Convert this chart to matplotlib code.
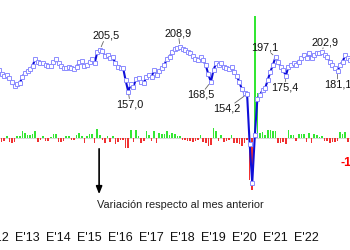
import numpy as np
import matplotlib.pyplot as plt

plt.rcParams['font.family'] = ['Liberation Sans', 'DejaVu Sans']

# monthly index, Jan 2012 onwards
indice = [
    184, 182, 178, 175.5, 176.5, 173, 168, 164, 165.5, 167, 174, 179,
    181, 183, 187, 195.5, 192, 190.5, 190.5, 188.5, 186.5, 186.5, 191, 194.5,
    190.5, 187, 184.5, 185, 185.5, 184, 183, 185.5, 191.5, 192.5, 187, 187.5,
    191, 195.5, 190, 203, 205.5, 204, 199, 199.5, 196, 197.5, 190, 186,
    185, 184.5, 170, 157.0, 166, 162.5, 172, 173, 168.5, 166.5, 174.5, 176.5,
    174.5, 182, 176.5, 181, 184.5, 188, 195.5, 197.5, 203, 206.5, 207.5, 208.9,
    207, 205.5, 203.5, 201.5, 198, 195.5, 194, 197, 193.5, 188, 177, 168.5,
    182, 190, 188, 190, 186, 184, 183, 186, 180, 175, 168.5, 159.5,
    155.5, 154.2, 96, 51, 106, 149, 153, 159, 161, 170.5, 180, 188,
    197.1, 192, 186, 182, 175.4, 186, 188, 190, 188, 192, 196, 199.5,
    196, 201.5, 196, 199.5, 201.5, 201.5, 202.9, 199.5, 197.5, 192, 188, 184,
    181.1, 188, 192, 199.5, 196, 194, 192, 190,
]

# variation vs previous month (%)
variacion = [
    2.5, -2.2, -3.2, -2.4, 1.6, -3.0, -4.0, -3.4, 1.9, 1.9, 5.2, 3.9,
    2.1, 2.1, 3.2, 5.5, -2.8, -1.8, 1.2, -2.0, -2.1, 1.1, 3.4, 2.8,
    -3.1, -2.8, -2.3, 1.3, 1.3, -1.8, -1.5, 2.4, 4.2, 1.5, -3.9, 1.3,
    2.9, 3.4, -3.8, 7.0, 2.2, -1.7, -3.5, 1.3, -2.8, 1.8, -4.8, -3.1,
    -1.5, -1.3, -7.9, -7.6, 6.2, -3.1, 6.0, 1.6, -3.6, -2.2, 5.0, 2.1,
    -2.1, 5.0, -4.0, 3.5, 2.9, 2.9, 5.0, 2.0, 3.8, 2.7, 1.5, 1.7,
    -1.9, -1.7, -2.0, -2.0, -2.7, -2.3, -1.8, 2.5, -2.8, -3.8, -6.0, -5.5,
    7.5, 5.0, -2.1, 2.1, -3.1, -2.1, -1.5, 2.6, -4.2, -3.8, -4.7, -5.8,
    -3.5, -1.8, -32.0, -40.0, 94.0, 35.0, 3.7, 4.9, 2.3, 6.0, 5.8, 5.0,
    5.2, -3.6, -4.1, -3.2, -4.6, 6.0, 2.1, 2.1, -2.1, 3.1, 3.1, 2.8,
    -2.8, 3.8, -3.8, 2.8, 2.0, 0.8, 1.7, -2.6, -2.0, -3.8, -3.1, -3.1,
    -2.6, 4.8, 3.1, 4.9, -2.8, -1.9, -2.0, -1.1,
]

anyo_inicio = 2012
anyos = list(range(2012, 2023))
ultima_etiqueta = '-1,1%'

# labelled extremes: (month index, offset x px, offset y px)
extremos = [
    (40, 6, 14), (51, 2, -12.5), (71, -1.5, 14), (83, -10, -13),
    (97, -20, -14.5), (108, -10.5, 9.5), (112, -1, -11.5),
    (126, 2.5, 10), (132, 0, -13.5),
]

t = anyo_inicio + np.arange(len(indice)) / 12

fig = plt.figure(figsize=(3.5, 2.5), dpi=100)
ax = fig.add_axes([0, 0, 1, 1])
ax.set_axis_off()
ax.set_xlim(2020 - 244.5 / 31, 2020 + 105.5 / 31)
ax.set_ylim(-86.2, 106.2)

# bars
colores = ['#33e633' if v >= 0 else '#f03030' for v in variacion]
ax.axhline(0, color='#d0d0d0', lw=0.6, zorder=1)
ax.bar(t, variacion, width=0.6 / 12, color=colores, zorder=2)
ax.annotate(ultima_etiqueta, xy=(t[-1], 0), xytext=(1, -25),
            textcoords='offset pixels', ha='center', va='center',
            color='#ff0000', fontsize=9, fontweight='bold',
            annotation_clip=False)

# arrow + note
ax.annotate('', xy=(2015.31, -45.4), xytext=(2015.31, -6.2),
            arrowprops=dict(arrowstyle='-|>,head_width=0.18,head_length=0.45',
                            color='black', lw=1.2))
ax.text(2015.25, -51.5, 'Variación respecto al mes anterior',
        fontsize=7.9, color='#222222', ha='left', va='center')

tr = ax.get_xaxis_transform()
for a in anyos:
    ax.text(a, 0.048, f"E'{a % 100:02d}", transform=tr, ha='center',
            va='center', fontsize=9, color='#111111')

# index line
ax2 = ax.twinx()
ax2.set_axis_off()
ax2.set_ylim(-27.2, 263.6)
ax2.plot(t, indice, color='#0f0fd8', lw=1.5, marker='s', ms=2.4,
         mfc='white', mec='#8c8cff', mew=0.7, zorder=3)

for k, dx, dy in extremos:
    txt = f'{indice[k]:.1f}'.replace('.', ',')
    ax2.annotate(txt, xy=(t[k], indice[k]), xytext=(dx, dy),
                 textcoords='offset pixels', ha='center', va='center',
                 fontsize=7.8, color='#111111',
                 bbox=dict(boxstyle='square,pad=0.05', fc='none', ec='none'),
                 arrowprops=dict(arrowstyle='-', color='#666666', lw=0.6,
                                 shrinkA=0, shrinkB=2.5))

fig.savefig('out.png', dpi=100)
